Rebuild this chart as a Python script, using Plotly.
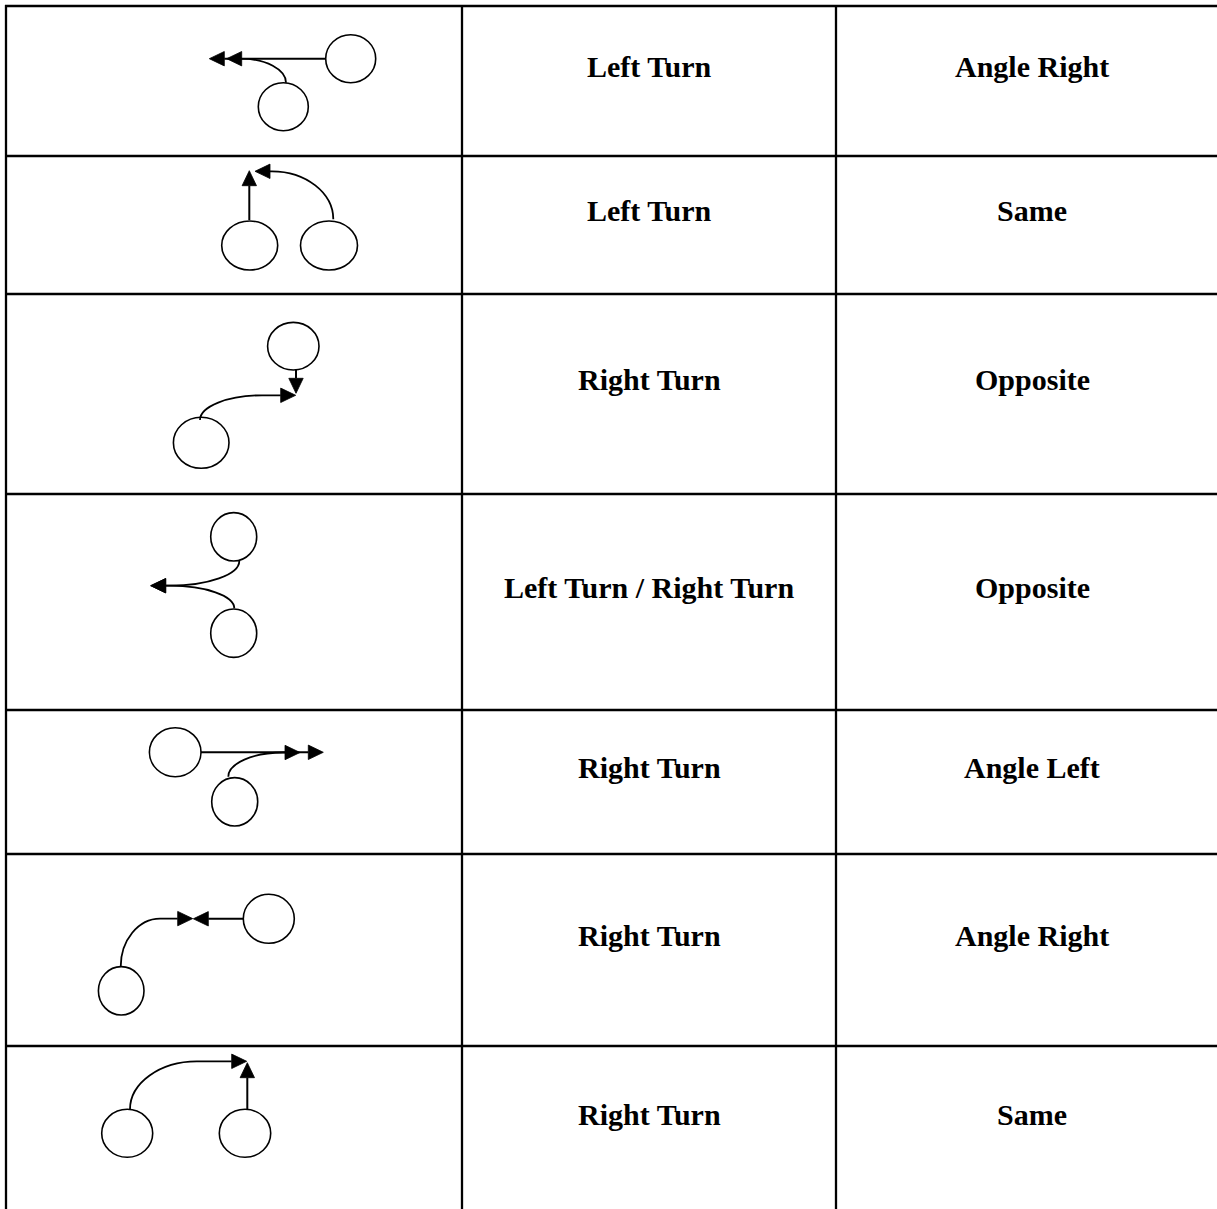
import math
import plotly.graph_objects as go

W, H = 1217, 1209

# ---------------- table content ----------------
movement = ["Left Turn", "Left Turn", "Right Turn", "Left Turn / Right Turn",
            "Right Turn", "Right Turn", "Right Turn"]
direction = ["Angle Right", "Same", "Opposite", "Opposite",
             "Angle Left", "Angle Right", "Same"]

# ---------------- table grid (canvas px) ----------------
col_edges = [6, 462, 836, 1228]
row_edges = [6, 156, 294, 494, 710, 854, 1046, 1212]

# ---------------- diagram glyphs per row ----------------
# circles: (cx, cy, rx, ry)
circles = [
    [(350.7, 58.7, 25, 24), (283.3, 106.7, 25, 24)],
    [(249.7, 245.5, 28, 24.5), (329.0, 245.5, 28.5, 24.5)],
    [(293.3, 346.2, 25.7, 23.8), (201.2, 442.8, 27.8, 25.5)],
    [(233.7, 536.8, 23, 24.2), (233.7, 633.2, 23, 24.2)],
    [(175.2, 752.2, 25.8, 24.5), (234.7, 801.8, 23, 24.2)],
    [(268.8, 918.8, 25.5, 24.5), (121.2, 990.8, 22.8, 24.2)],
    [(127.2, 1133.3, 25.5, 24), (245.0, 1133.3, 25.7, 24)],
]
# arrows: (start, elbow end of quarter curve or None for straight, tip)
arrows = [
    [((325.7, 58.7), None, (209.3, 58.7)), ((286, 82.7), (241, 58.7), (226.7, 58.7))],
    [((249.3, 220), None, (249.3, 170.7)), ((333.3, 219.3), (272, 171.3), (255, 171.3))],
    [((296, 370), None, (296, 393.3)), ((200, 420), (262, 395.3), (295.7, 395.3))],
    [((239.3, 561), (170, 585.7), (150.7, 585.7)), ((234.3, 608.3), (170, 585.7), (150.7, 585.7))],
    [((201, 752.3), None, (323.3, 752.3)), ((228.3, 776.7), (283, 752.5), (300, 752.5))],
    [((243.3, 918.8), None, (193.3, 918.8)), ((120.7, 966.7), (160, 918.6), (192.7, 918.6))],
    [((247.3, 1109.3), None, (247.3, 1062.7)), ((130, 1109.3), (196.7, 1061.3), (246.7, 1061.3))],
]

HEAD_LEN = 15.0
HEAD_HALF = 7.2
KAPPA = 0.55
FONT = "Liberation Serif, Times New Roman, serif"

shapes = []

# table rules
for x in col_edges:
    shapes.append(dict(type="line", xref="x", yref="y", x0=x, x1=x,
                       y0=row_edges[0] - 1, y1=row_edges[-1],
                       line=dict(color="black", width=2.3)))
for y in row_edges:
    shapes.append(dict(type="line", xref="x", yref="y", x0=col_edges[0] - 1,
                       x1=col_edges[-1], y0=y, y1=y,
                       line=dict(color="black", width=2.3)))

# circles
for row in circles:
    for cx, cy, rx, ry in row:
        shapes.append(dict(type="circle", xref="x", yref="y",
                           x0=cx - rx, x1=cx + rx, y0=cy - ry, y1=cy + ry,
                           line=dict(color="black", width=1.6),
                           fillcolor="rgba(0,0,0,0)"))

# arrows
for row in arrows:
    for start, elbow, tip in row:
        prev = elbow if elbow is not None else start
        dx, dy = tip[0] - prev[0], tip[1] - prev[1]
        n = math.hypot(dx, dy)
        ux, uy = dx / n, dy / n
        bx, by = tip[0] - ux * HEAD_LEN, tip[1] - uy * HEAD_LEN
        if elbow is None:
            path = f"M {start[0]},{start[1]} L {bx},{by}"
            lw = 2.0
        else:
            kx, ky = start[0], elbow[1]  # corner: vertical first, then horizontal
            p1 = (start[0] + KAPPA * (kx - start[0]), start[1] + KAPPA * (ky - start[1]))
            p2 = (elbow[0] + KAPPA * (kx - elbow[0]), elbow[1] + KAPPA * (ky - elbow[1]))
            path = (f"M {start[0]},{start[1]} C {p1[0]},{p1[1]} {p2[0]},{p2[1]} "
                    f"{elbow[0]},{elbow[1]} L {bx},{by}")
            lw = 1.8
        shapes.append(dict(type="path", xref="x", yref="y", path=path,
                           line=dict(color="black", width=lw)))
        nx, ny = -uy, ux
        head = (f"M {tip[0]},{tip[1]} L {bx + nx * HEAD_HALF},{by + ny * HEAD_HALF} "
                f"L {bx - nx * HEAD_HALF},{by - ny * HEAD_HALF} Z")
        shapes.append(dict(type="path", xref="x", yref="y", path=head,
                           fillcolor="black", line=dict(color="black", width=0.8)))

# cell texts
annotations = []
TEXT_SHIFT = 14.5
for i in range(len(movement)):
    yc = (row_edges[i] + row_edges[i + 1]) / 2 - TEXT_SHIFT
    for j, txt in ((1, movement[i]), (2, direction[i])):
        xc = (col_edges[j] + col_edges[j + 1]) / 2
        annotations.append(dict(x=xc, y=yc, xref="x", yref="y", text=txt,
                                showarrow=False, xanchor="center", yanchor="middle",
                                font=dict(family=FONT, size=30, color="black",
                                          weight="bold")))

fig = go.Figure()
fig.add_trace(go.Scatter(x=[0, W], y=[0, H], mode="markers",
                         marker=dict(opacity=0), hoverinfo="skip", showlegend=False))
fig.update_layout(width=W, height=H, margin=dict(l=0, r=0, t=0, b=0),
                  paper_bgcolor="white", plot_bgcolor="white",
                  shapes=shapes, annotations=annotations, showlegend=False)
fig.update_xaxes(range=[0, W], visible=False, fixedrange=True)
fig.update_yaxes(range=[H, 0], visible=False, fixedrange=True)

fig.write_html("out.html", config={"displayModeBar": False},
               post_script="document.body.style.margin='0';document.body.style.overflow='hidden';")
